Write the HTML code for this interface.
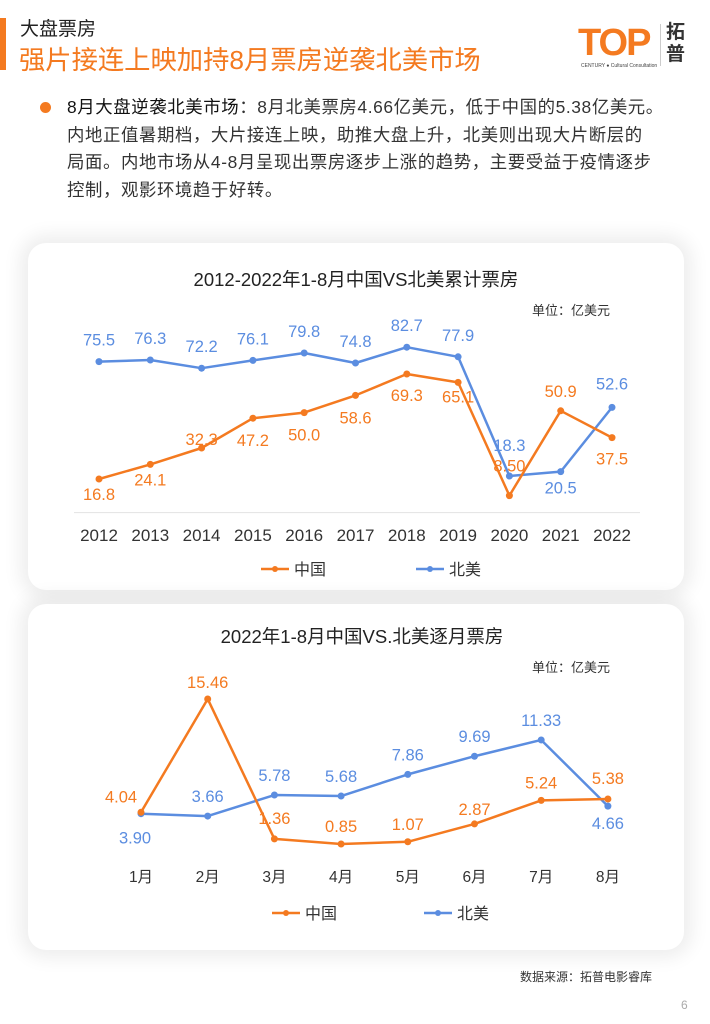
<!DOCTYPE html>
<html><head><meta charset="utf-8">
<style>
body{margin:0;width:710px;height:1024px;background:#fff;position:relative;overflow:hidden;font-family:"Liberation Sans","Noto Sans CJK SC",sans-serif;}
.abs{position:absolute;}
.card{position:absolute;background:#fff;border-radius:18px;box-shadow:0 0 18px 8px rgba(0,0,0,0.07);}
</style></head><body>
<div class="abs" style="left:0;top:18px;width:6px;height:52px;background:#f47a20"></div>
<div class="abs" style="left:20px;top:14px;font-size:19px;color:#222">大盘票房</div>
<div class="abs" style="left:19px;top:38px;font-size:26.3px;color:#f47a20;white-space:nowrap">强片接连上映加持8月票房逆袭北美市场</div>
<div class="abs" style="left:578px;top:22px;width:120px;height:48px">
 <div style="position:absolute;left:0;top:0;font-size:38px;font-weight:bold;color:#f47a20;letter-spacing:-2px">TOP</div>
 <div style="position:absolute;left:3px;top:41px;font-size:5px;color:#444">CENTURY ● Cultural Consultation</div>
 <div style="position:absolute;left:82px;top:2px;width:1px;height:42px;background:#ccc"></div>
 <div style="position:absolute;left:88px;top:0;font-size:19px;line-height:22px;font-weight:bold;color:#333">拓<br>普</div>
</div>
<div class="abs" style="left:40px;top:102px;width:11px;height:11px;border-radius:50%;background:#f47a20"></div>
<div class="abs" style="left:67px;top:94px;white-space:nowrap;font-size:17.4px;letter-spacing:0.6px;line-height:27.5px;color:#333"><span style="color:#111">8月大盘逆袭北美市场</span>：8月北美票房4.66亿美元，低于中国的5.38亿美元。<br>内地正值暑期档，大片接连上映，助推大盘上升，北美则出现大片断层的<br>局面。内地市场从4-8月呈现出票房逐步上涨的趋势，主要受益于疫情逐步<br>控制，观影环境趋于好转。</div>

<div class="card" style="left:28px;top:243px;width:656px;height:347px"></div>
<div class="card" style="left:28px;top:604px;width:656px;height:346px"></div>

<svg class="abs" style="left:0;top:0" width="710" height="1024">
<g id="c1" font-family="Liberation Sans, Noto Sans CJK SC, sans-serif"></g>
<g id="c2" font-family="Liberation Sans, Noto Sans CJK SC, sans-serif"></g>
</svg>

<div class="abs" style="left:520px;top:968px;font-size:12px;color:#333">数据来源：拓普电影睿库</div>
<div class="abs" style="left:681px;top:998px;font-size:12px;color:#aaa">6</div>

<script>
const years=['2012','2013','2014','2015','2016','2017','2018','2019','2020','2021','2022'];
const chinaAnnual=[16.8,24.1,32.3,47.2,50.0,58.6,69.3,65.1,8.50,50.9,37.5];
const naAnnual=[75.5,76.3,72.2,76.1,79.8,74.8,82.7,77.9,18.3,20.5,52.6];
const chinaAnnualLabels=['16.8','24.1','32.3','47.2','50.0','58.6','69.3','65.1','8.50','50.9','37.5'];
const naAnnualLabels=['75.5','76.3','72.2','76.1','79.8','74.8','82.7','77.9','18.3','20.5','52.6'];
const months=['1月','2月','3月','4月','5月','6月','7月','8月'];
const chinaMonthly=[4.04,15.46,1.36,0.85,1.07,2.87,5.24,5.38];
const naMonthly=[3.90,3.66,5.78,5.68,7.86,9.69,11.33,4.66];
const chinaMonthlyLabels=['4.04','15.46','1.36','0.85','1.07','2.87','5.24','5.38'];
const naMonthlyLabels=['3.90','3.66','5.78','5.68','7.86','9.69','11.33','4.66'];

const NS='http://www.w3.org/2000/svg';
const OR='#f47a20',BL='#5b8de0';
function mk(p,tag,attrs,txt){const e=document.createElementNS(NS,tag);for(const k in attrs)e.setAttribute(k,attrs[k]);if(txt!==undefined)e.textContent=txt;p.appendChild(e);return e;}

function drawChart(g,cfg){
  const t=mk(g,'text',{x:cfg.titleX,y:cfg.titleY,'font-size':18.5,fill:'#222','text-anchor':'middle'},cfg.title);
  
  
  const u=mk(g,'text',{x:610,y:cfg.titleY+29,'font-size':13,fill:'#333','text-anchor':'end'},'单位：亿美元');
  
  
  if(cfg.axisLine){const a=mk(g,'line',{x1:74,x2:640,y1:cfg.y0,y2:cfg.y0,stroke:'#e3e3e3','stroke-width':1});
    
    }
  const xs=i=>cfg.x0+i*cfg.step, ys=v=>cfg.y0-v*cfg.k;
  cfg.cats.forEach((c,i)=>{const e=mk(g,'text',{x:xs(i),y:cfg.catY,'font-size':cfg.catSize,fill:'#333','text-anchor':'middle'},c);
    
    });
  [[cfg.s2,BL,cfg.l2,cfg.o2,'north-america'],[cfg.s1,OR,cfg.l1,cfg.o1,'china']].forEach(([s,col,lab,off,nm])=>{
    const pl=mk(g,'polyline',{points:s.map((v,i)=>xs(i)+','+ys(v)).join(' '),fill:'none',stroke:col,'stroke-width':2.5,'stroke-linejoin':'round'});
    
    
    s.forEach((v,i)=>{const c=mk(g,'circle',{cx:xs(i),cy:ys(v),r:3.5,fill:col});
      
      
      const l=mk(g,'text',{x:xs(i)+(off[i][0]||0),y:ys(v)+off[i][1],'font-size':cfg.valSize,fill:col,'text-anchor':'middle'},lab[i]);
      
      });
  });
  [[OR,'中国',cfg.legX1,'china'],[BL,'北美',cfg.legX2,'north-america']].forEach(([col,txt,lx,nm])=>{
    const lg=mk(g,'g',{});
    
    
    mk(lg,'line',{x1:lx,x2:lx+28,y1:cfg.legY,y2:cfg.legY,stroke:col,'stroke-width':2.5});
    mk(lg,'circle',{cx:lx+14,cy:cfg.legY,r:3,fill:col});
    mk(lg,'text',{x:lx+33,y:cfg.legY+6,'font-size':16,fill:'#333'},txt);
  });
}
drawChart(document.getElementById('c1'),{title:'2012-2022年1-8月中国VS北美累计票房',titleX:356,titleY:286,
  cats:years,s1:chinaAnnual,s2:naAnnual,l1:chinaAnnualLabels,l2:naAnnualLabels,
  x0:99,step:51.3,y0:512.6,k:2,catY:541,catSize:17,valSize:16.5,axisLine:true,
  o1:[[0,21],[0,21],[0,-3],[0,28],[0,28],[0,28],[0,27],[0,20],[0,-24],[0,-14],[0,27]],
  o2:[[0,-16],[0,-16],[0,-16],[0,-16],[0,-16],[0,-16],[0,-16],[0,-16],[0,-25],[0,22],[0,-18]],
  legX1:261,legX2:416,legY:569});
drawChart(document.getElementById('c2'),{title:'2022年1-8月中国VS.北美逐月票房',titleX:362,titleY:643,
  cats:months,s1:chinaMonthly,s2:naMonthly,l1:chinaMonthlyLabels,l2:naMonthlyLabels,
  x0:141,step:66.7,y0:852.4,k:9.925,catY:882,catSize:15.5,valSize:16.5,axisLine:false,
  o1:[[-20,-10],[0,-11],[0,-15],[0,-12],[0,-12],[0,-9],[0,-12],[0,-15]],
  o2:[[-6,30],[0,-14],[0,-14],[0,-14],[0,-14],[0,-14],[0,-14],[0,23]],
  legX1:272,legX2:424,legY:913});
</script>
</body></html>
